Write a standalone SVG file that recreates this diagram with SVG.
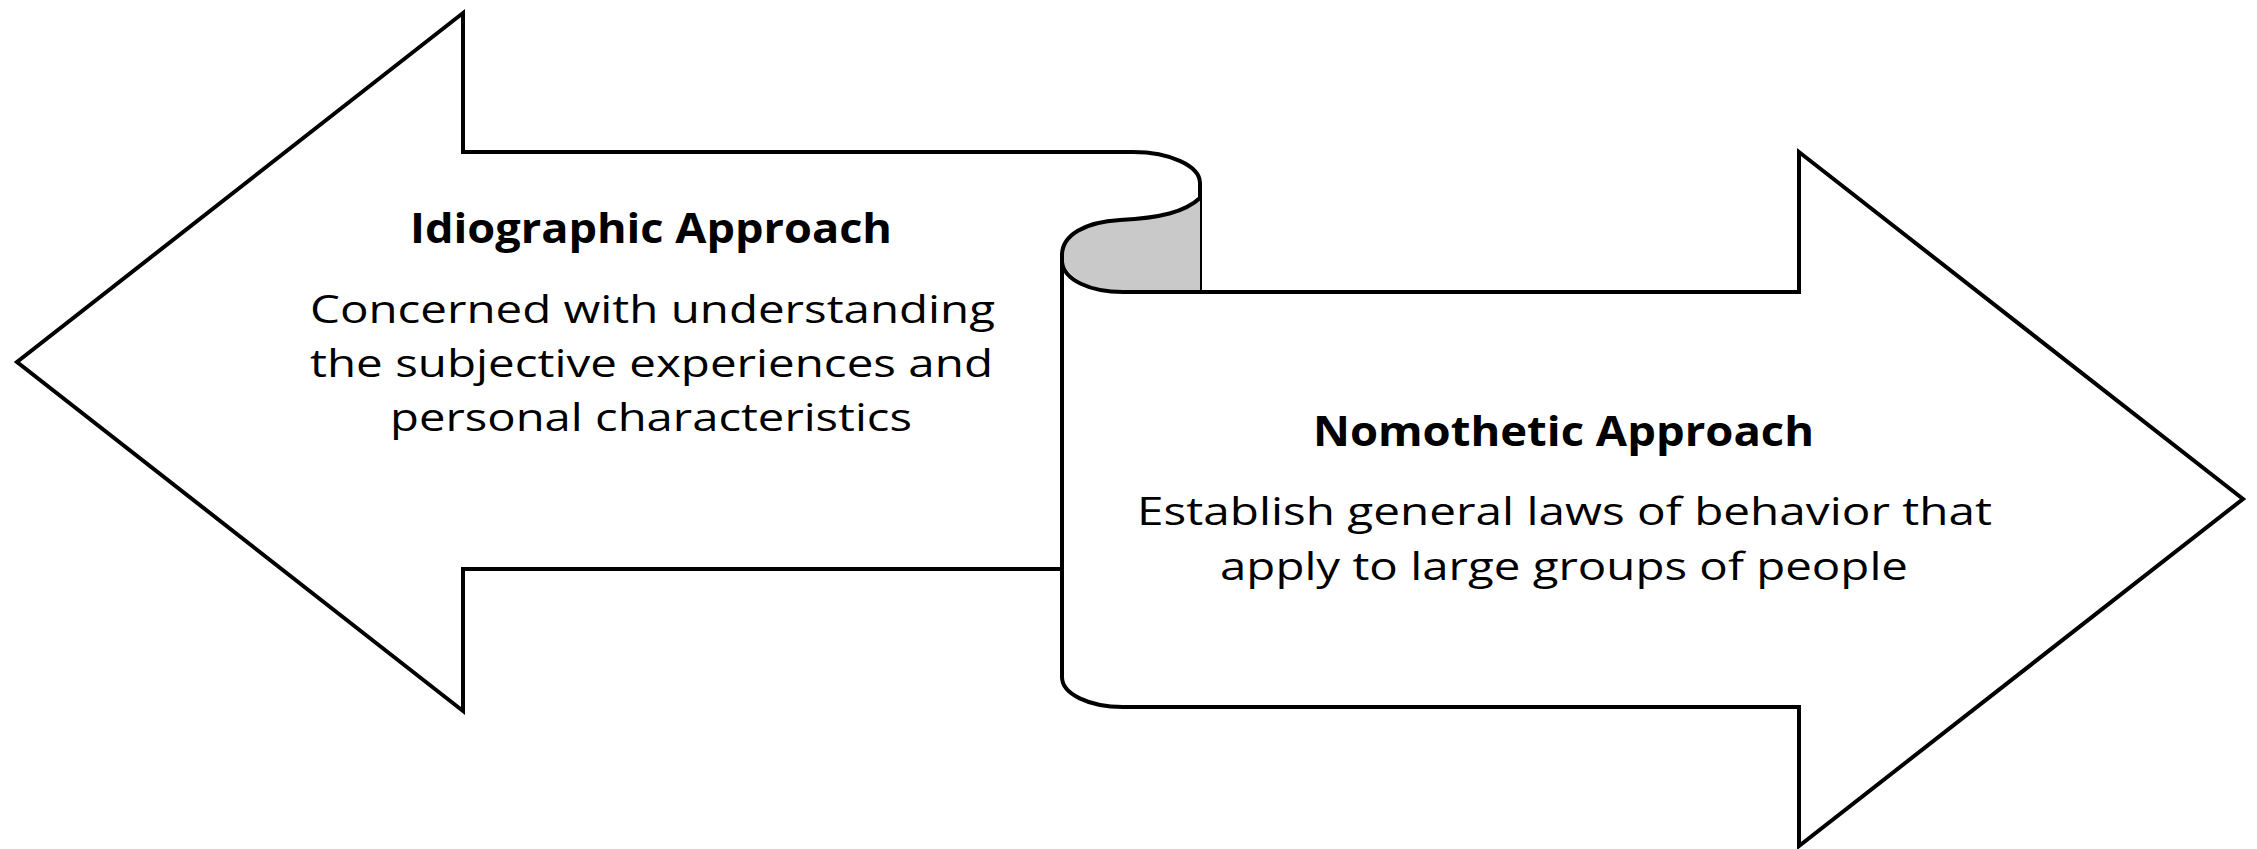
<svg xmlns="http://www.w3.org/2000/svg" width="2257" height="849" viewBox="0 0 2257 849">
<style>
.ln{fill:none;stroke:#000;stroke-width:4;stroke-linejoin:miter;stroke-linecap:butt}
.wf{fill:#fff;stroke:none}
.t{font-family:"Open Sans","Liberation Sans",sans-serif;fill:#000;text-anchor:start}
.h{font-size:41px;font-weight:bold}
.b{font-size:39px}
</style>
<rect width="2257" height="849" fill="#fff"/>
<g id="left-arrow">
<path class="wf" d="M1133,152 L463,152 L463,13 L17,362 L463,711 L463,569 L1062,569 L1062,253 L1200,200 L1200,183 Z"/>
<path class="ln" d="M1062,569 L463,569 L463,711 L17,362 L463,13 L463,152 L1133,152 C1170,152 1200,166 1200,183 L1200,292"/>
<text class="t h" x="410" y="243" textLength="482" lengthAdjust="spacingAndGlyphs">Idiographic Approach</text>
<text class="t b" x="310" y="323" textLength="685" lengthAdjust="spacingAndGlyphs">Concerned with understanding</text>
<text class="t b" x="310" y="377" textLength="683" lengthAdjust="spacingAndGlyphs">the subjective experiences and</text>
<text class="t b" x="390" y="431" textLength="522" lengthAdjust="spacingAndGlyphs">personal characteristics</text>
</g>
<g id="scroll-curl">
<path d="M1200,198 C1185,212 1160,218 1120,220 C1085,222 1062,235 1062,255 C1062,275 1090,292 1123,292 L1200,292 Z" fill="#c9c9c9" stroke="none"/>
<path class="ln" d="M1200,198 C1185,212 1160,218 1120,220 C1085,222 1062,235 1062,255"/>
<path class="ln" d="M1062,262 C1064,280 1090,292 1123,292 L1200,292"/>
</g>
<g id="right-arrow">
<path class="ln" d="M1200,292 L1799,292 L1799,152 L2243,499 L1799,846 L1799,707 L1123,707 C1089,707 1062,694 1062,677 L1062,253"/>
<text class="t h" x="1313" y="446" textLength="501" lengthAdjust="spacingAndGlyphs">Nomothetic Approach</text>
<text class="t b" x="1137" y="525" textLength="855" lengthAdjust="spacingAndGlyphs">Establish general laws of behavior that</text>
<text class="t b" x="1220" y="580" textLength="688" lengthAdjust="spacingAndGlyphs">apply to large groups of people</text>
</g>
<g id="connectors"></g>
</svg>
